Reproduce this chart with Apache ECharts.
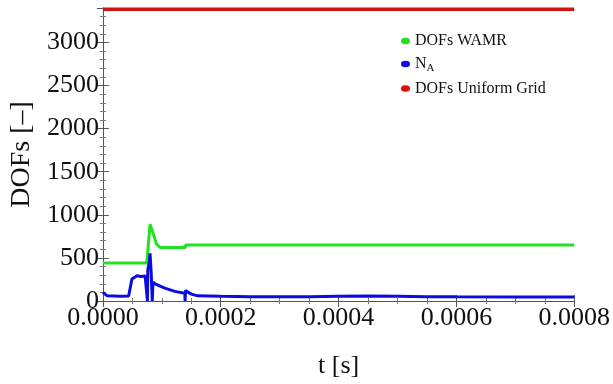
<!DOCTYPE html>
<html>
<head>
<meta charset="utf-8">
<script src="https://cdn.jsdelivr.net/npm/echarts@6/dist/echarts.min.js"></script>
<style>
  html, body { margin: 0; padding: 0; background: #fff; }
  #chart { width: 613px; height: 384px; }
</style>
</head>
<body>
<div id="chart"></div>
<script>
  const tWamr = [0, 0.0000745, 0.0000800, 0.0000857, 0.0000910, 0.0000970, 0.0001400, 0.0001405, 0.0008];
  const dofsWamr = [440, 440, 892, 776, 660, 621, 621, 650, 650];

  const tNa = [0, 0.0000020, 0.0000073, 0.0000300, 0.0000437, 0.0000470, 0.0000493, 0.0000577, 0.0000650, 0.0000717,
    0.0000750, 0.0000756, 0.0000762, 0.0000790, 0.0000800, 0.0000820, 0.0000838, 0.0000842, 0.0000850, 0.0000885,
    0.0001050, 0.0001220, 0.0001390, 0.0001395, 0.0001402, 0.0001420, 0.0001500, 0.0001610, 0.0002000, 0.0002500,
    0.0003000, 0.0003500, 0.0004000, 0.0004500, 0.0005000, 0.0005500, 0.0006000, 0.0007000, 0.0008000];
  const na = [100, 95, 60, 55, 58, 80, 255, 293, 285, 290,
    310, 0, 360, 470, 552, 320, 0, 0, 220, 200,
    150, 112, 89, 0, 120, 139, 80, 60, 55, 50,
    48, 50, 55, 58, 55, 50, 48, 46, 45];

  const tUniform = [0, 0.0008];
  const dofsUniform = [3385, 3385];

  const xTicks = [0, 0.0002, 0.0004, 0.0006, 0.0008];
  const yTicks = [0, 500, 1000, 1500, 2000, 2500, 3000];

  const names = ["DOFs WAMR", "N_A", "DOFs Uniform Grid"];
  const lineColors = ["#22e022", "#0a0ae6", "#d81010"];

  const pair = (ts, vs) => ts.map((t, i) => [t, vs[i]]);
  const serif = "Liberation Serif";
  const ellipse = "path://M0,5 A7,5 0 1,0 14,5 A7,5 0 1,0 0,5 Z";

  const chart = echarts.init(document.getElementById("chart"));
  const frame = { lineStyle: { color: "#555", width: 1 } };
  const tickIn = { inside: true, length: 6, lineStyle: { color: "#555" } };
  const minorIn = { show: true, length: 3, lineStyle: { color: "#777" } };

  chart.setOption({
    animation: false,
    backgroundColor: "#fff",
    grid: { left: 99, right: 38, top: 8, bottom: 82 },
    legend: {
      orient: "vertical",
      left: 396,
      top: 28,
      itemGap: 7,
      itemWidth: 9,
      itemHeight: 7,
      icon: ellipse,
      data: names,
      textStyle: {
        fontFamily: serif, fontSize: 16, color: "#111",
        rich: {
          n: { fontFamily: serif, fontSize: 16, color: "#111" },
          s: { fontFamily: serif, fontSize: 11, color: "#111", padding: [8, 0, 0, 0] }
        }
      },
      formatter: (name) => name === "N_A" ? "{n|N}{s|A}" : name
    },
    xAxis: [
      {
        type: "value", min: 0, max: 0.0008, interval: 0.0002,
        name: "t [s]", nameLocation: "middle", nameGap: 52,
        nameTextStyle: { fontFamily: serif, fontSize: 26, color: "#111" },
        axisLine: frame, axisTick: tickIn,
        minorTick: Object.assign({ splitNumber: 4 }, minorIn),
        splitLine: { show: false },
        axisLabel: {
          fontFamily: serif, fontSize: 26, color: "#111", margin: 4,
          formatter: (v) => xTicks.includes(+v.toFixed(4)) ? v.toFixed(4) : ""
        }
      },
      {
        type: "value", position: "top", min: 0, max: 0.0008, interval: 0.0002,
        axisLine: frame, axisTick: tickIn,
        minorTick: Object.assign({ splitNumber: 4 }, minorIn),
        axisLabel: { show: false }, splitLine: { show: false }
      }
    ],
    yAxis: [
      {
        type: "value", min: 0, max: 3400, interval: 500,
        name: "DOFs [\u2013]", nameLocation: "middle", nameGap: 66,
        nameTextStyle: { fontFamily: serif, fontSize: 28, color: "#111" },
        axisLine: Object.assign({ show: true }, frame), axisTick: Object.assign({ show: true }, tickIn),
        minorTick: Object.assign({ splitNumber: 5 }, minorIn),
        splitLine: { show: false },
        axisLabel: {
          fontFamily: serif, fontSize: 26, color: "#111", margin: 4, showMaxLabel: false,
          formatter: (v) => yTicks.includes(v) ? String(v) : ""
        }
      },
      {
        type: "value", position: "right", min: 0, max: 3400, interval: 500,
        axisLine: Object.assign({ show: true }, frame), axisTick: Object.assign({ show: true }, tickIn),
        minorTick: Object.assign({ splitNumber: 5 }, minorIn),
        axisLabel: { show: false }, splitLine: { show: false }
      }
    ],
    series: [
      { name: names[0], type: "line", data: pair(tWamr, dofsWamr), showSymbol: false, color: lineColors[0], lineStyle: { width: 3 } },
      { name: names[1], type: "line", data: pair(tNa, na), showSymbol: false, color: lineColors[1], lineStyle: { width: 3 } },
      { name: names[2], type: "line", data: pair(tUniform, dofsUniform), showSymbol: false, color: lineColors[2], lineStyle: { width: 3.5 } }
    ]
  });
</script>
</body>
</html>
